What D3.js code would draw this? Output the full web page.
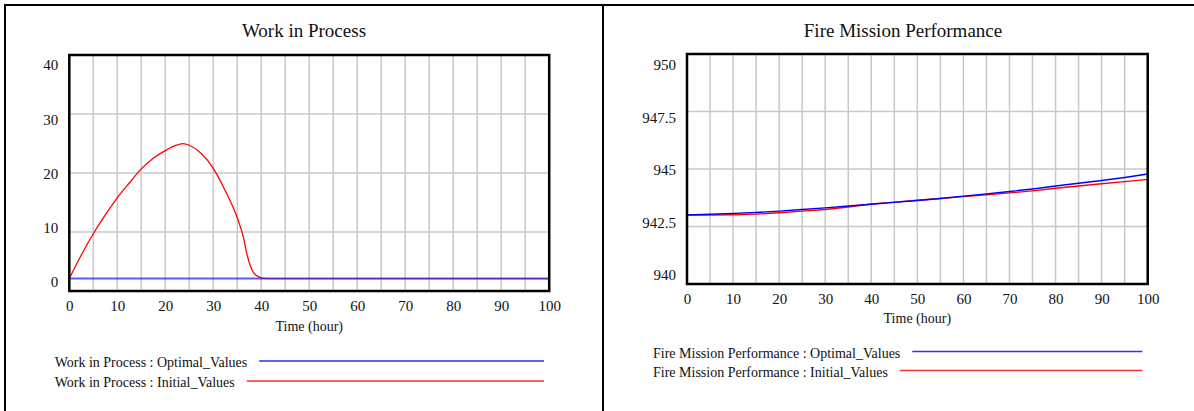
<!DOCTYPE html>
<html>
<head>
<meta charset="utf-8">
<script src="https://cdn.jsdelivr.net/npm/d3@7"></script>
<style>
  body { margin: 0; background: #fff; }
  svg { display: block; }
  text { font-family: "Liberation Serif", "Times New Roman", serif; fill: #111; }
</style>
</head>
<body>
<div id="chart"></div>
<script>
// time axis shared by both charts
var xTicks = [0, 10, 20, 30, 40, 50, 60, 70, 80, 90, 100];
var xGrid = d3.range(0, 101, 5);

// Work in Process
var wipTime = [0, 2.5, 5, 7.5, 10, 12.5, 15, 17.5, 20, 22.5, 23.75, 25, 27.5, 30, 32.5, 35, 36.25, 37, 37.75, 38.5, 39.5, 40.5, 42, 100];
var wipInitial = [2.1, 6.1, 9.7, 12.9, 15.8, 18.3, 20.7, 22.5, 23.8, 24.75, 24.97, 24.7, 23.3, 20.8, 17.0, 12.4, 9.2, 6.3, 4.2, 3.0, 2.4, 2.15, 2.1, 2.1];
var wipOptTime = [0, 100];
var wipOptimal = [2.1, 2.1];
var wipYTicks = [0, 10, 20, 30, 40];

// Fire Mission Performance
var fmpTime = [0, 5, 10, 15, 20, 25, 30, 35, 40, 45, 50, 55, 60, 65, 70, 75, 80, 85, 90, 95, 100];
var fmpOptimal = [943.00, 943.03, 943.07, 943.11, 943.17, 943.24, 943.31, 943.39, 943.47, 943.55, 943.63,
                  943.72, 943.82, 943.92, 944.02, 944.13, 944.26, 944.38, 944.50, 944.63, 944.78];
var fmpInitial = [943.00, 943.00, 943.01, 943.04, 943.10, 943.17, 943.24, 943.35, 943.48, 943.56, 943.64,
                  943.72, 943.80, 943.88, 943.96, 944.05, 944.16, 944.26, 944.36, 944.45, 944.55];
var fmpYTicks = [940, 942.5, 945, 947.5, 950];

var W = 1194, H = 411;
var svg = d3.select("#chart").append("svg").attr("width", W).attr("height", H);

// outer frame
svg.append("line").attr("x1", 4).attr("x2", W).attr("y1", 5).attr("y2", 5).attr("stroke", "#000").attr("stroke-width", 2);
svg.append("line").attr("x1", 5).attr("x2", 5).attr("y1", 4).attr("y2", H).attr("stroke", "#000").attr("stroke-width", 2);
svg.append("line").attr("x1", 603).attr("x2", 603).attr("y1", 4).attr("y2", H).attr("stroke", "#000").attr("stroke-width", 2);

function zip(xs, ys) { return xs.map(function (x, i) { return [x, ys[i]]; }); }

function drawPanel(cfg) {
	var g = svg.append("g").attr("class", "panel");
	var x = d3.scaleLinear().domain([0, 100]).range([cfg.left, cfg.right]);
	var y = d3.scaleLinear().domain(cfg.yDomain).range([cfg.bottom, cfg.top]);
	// Vensim spreads the value labels a little inside the box
	var yLab = d3.scaleLinear().domain(cfg.yDomain).range([cfg.bottom - cfg.labInsetB, cfg.top + cfg.labInsetT]);

	g.append("text")
		.attr("x", cfg.titleX).attr("y", 37)
		.attr("text-anchor", "middle").attr("font-size", 19)
		.text(cfg.title);

	// grid
	g.selectAll(".vgrid").data(xGrid).enter().append("line")
		.attr("x1", function (d) { return x(d); }).attr("x2", function (d) { return x(d); })
		.attr("y1", cfg.top).attr("y2", cfg.bottom)
		.attr("stroke", "#c8c8c8").attr("stroke-width", 1.5);
	g.selectAll(".hgrid").data(cfg.yTicks).enter().append("line")
		.attr("x1", cfg.left).attr("x2", cfg.right)
		.attr("y1", function (d) { return y(d); }).attr("y2", function (d) { return y(d); })
		.attr("stroke", "#c8c8c8").attr("stroke-width", 1.5);

	// series
	var line = d3.line().x(function (d) { return x(d[0]); }).y(function (d) { return y(d[1]); }).curve(cfg.curve);
	cfg.series.forEach(function (s) {
		g.append("path").datum(zip(s.t, s.v))
			.attr("fill", "none").attr("stroke", s.color)
			.attr("stroke-width", s.width).attr("stroke-opacity", s.opacity || 1)
			.attr("d", line);
	});

	// box
	g.append("rect")
		.attr("x", cfg.left).attr("y", cfg.top)
		.attr("width", cfg.right - cfg.left).attr("height", cfg.bottom - cfg.top)
		.attr("fill", "none").attr("stroke", "#000").attr("stroke-width", 2.5);

	// x axis labels
	var xAxis = g.append("g")
		.attr("transform", "translate(0," + cfg.bottom + ")")
		.call(d3.axisBottom(x).tickValues(xTicks).tickSize(0).tickPadding(9).tickFormat(d3.format("d")));
	xAxis.select(".domain").remove();
	xAxis.selectAll("text").attr("font-size", 15).attr("font-family", null).attr("fill", "#111");

	// y axis labels
	var yAxis = g.append("g")
		.attr("transform", "translate(" + (cfg.left - 11) + ",0)")
		.call(d3.axisLeft(yLab).tickValues(cfg.yTicks).tickSize(0).tickPadding(0).tickFormat(function (d) { return String(d); }));
	yAxis.select(".domain").remove();
	yAxis.selectAll("text").attr("font-size", 15).attr("font-family", null).attr("fill", "#111");

	g.append("text")
		.attr("x", (cfg.left + cfg.right) / 2).attr("y", cfg.bottom + cfg.axisTitleDy)
		.attr("text-anchor", "middle").attr("font-size", 14)
		.text("Time (hour)");

	// legend
	cfg.series.slice().reverse().forEach(function (s, i) {
		var ly = cfg.legendY + i * cfg.legendStep;
		var t = g.append("text")
			.attr("x", cfg.legendX).attr("y", ly + 5)
			.attr("font-size", 14)
			.text(cfg.title + " : " + s.name);
		var tw = t.node().getComputedTextLength();
		g.append("line")
			.attr("x1", cfg.legendX + tw + 12).attr("x2", cfg.legendEnd)
			.attr("y1", ly - 1).attr("y2", ly - 1)
			.attr("stroke", s.legendColor).attr("stroke-width", s.legendWidth);
	});
}

drawPanel({
	title: "Work in Process",
	titleX: 304,
	left: 69.3, right: 549.2, top: 55, bottom: 291,
	yDomain: [0, 40], yTicks: wipYTicks,
	labInsetT: 10, labInsetB: 9,
	axisTitleDy: 40,
	curve: d3.curveMonotoneX,
	legendX: 54.7, legendY: 362, legendStep: 20, legendEnd: 544,
	series: [
		{ name: "Initial_Values", t: wipTime, v: wipInitial, color: "#ff0000", width: 1.3, legendColor: "#ff6060", legendWidth: 2 },
		{ name: "Optimal_Values", t: wipOptTime, v: wipOptimal, color: "#3030ff", width: 2, opacity: 0.8, legendColor: "#6060ff", legendWidth: 2 }
	]
});

drawPanel({
	title: "Fire Mission Performance",
	titleX: 903,
	left: 687, right: 1147.7, top: 54, bottom: 284,
	yDomain: [940, 950], yTicks: fmpYTicks,
	labInsetT: 11, labInsetB: 9,
	axisTitleDy: 39,
	curve: d3.curveLinear,
	legendX: 653, legendY: 352.5, legendStep: 19, legendEnd: 1142.4,
	series: [
		{ name: "Initial_Values", t: fmpTime, v: fmpInitial, color: "#ff0000", width: 1.4, legendColor: "#ff3030", legendWidth: 1.3 },
		{ name: "Optimal_Values", t: fmpTime, v: fmpOptimal, color: "#0000ff", width: 1.4, legendColor: "#3030ff", legendWidth: 1.6 }
	]
});
</script>
</body>
</html>
